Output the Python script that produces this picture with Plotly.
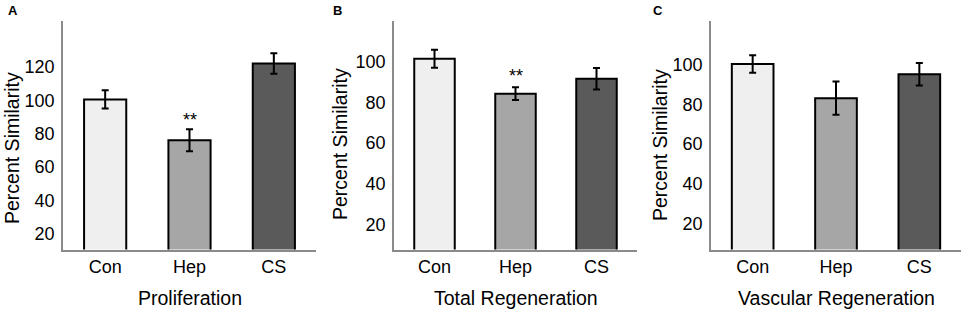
import plotly.graph_objects as go

W, H = 964, 312

categories = ["Con", "Hep", "CS"]

prolif_mean = [100.5, 76, 122]
prolif_err = [5.5, 6.6, 6.1]

total_mean = [101.6, 84.4, 91.8]
total_err = [4.4, 3.1, 5.3]

vasc_mean = [100.5, 83.2, 95.3]
vasc_err = [4.4, 8.4, 5.7]

bar_colors = ["#efefef", "#a6a6a6", "#5a5a5a"]

panel_titles = ["Proliferation", "Total Regeneration", "Vascular Regeneration"]
panel_letters = ["A", "B", "C"]
y_title = "Percent Similarity"

tick_A = [20, 40, 60, 80, 100, 120]
tick_BC = [20, 40, 60, 80, 100]

# layout (pixels)
x_dom_px = [(63, 316), (394, 637), (711, 961)]
y_top_px, y_bot_px = 21, 249.5
y_ranges = [[10.5, 147.5], [7.6, 120.2], [6.8, 122.2]]
ytitle_x_px = [12, 340, 660]
ytitle_y_px = [148, 144, 145]
letter_x_px = [13, 337, 658]
star_y = {0: 90.8, 1: 95.0}

FONT = "Liberation Sans, Arial, sans-serif"

fig = go.Figure()
series = [(prolif_mean, prolif_err), (total_mean, total_err), (vasc_mean, vasc_err)]

def px2x(p):
    return p / W

def px2y(p):
    return 1 - p / H

for i, (m, e) in enumerate(series):
    suffix = "" if i == 0 else str(i + 1)
    fig.add_trace(go.Bar(
        x=categories, y=m,
        xaxis="x" + suffix, yaxis="y" + suffix,
        width=0.5,
        marker=dict(color=bar_colors, line=dict(color="#000000", width=2)),
        error_y=dict(type="data", array=e, visible=True, color="#000000",
                     thickness=2, width=3.5),
        showlegend=False,
    ))
    xa = dict(
        domain=[px2x(x_dom_px[i][0]), px2x(x_dom_px[i][1])],
        anchor="y" + suffix,
        range=[-0.5, 2.5],
        showline=True, linecolor="#8a8a8a", linewidth=1.5,
        ticks="", showgrid=False, zeroline=False,
        tickfont=dict(family=FONT, size=18, color="#000000"),
        fixedrange=True,
    )
    ya = dict(
        domain=[px2y(y_bot_px), px2y(y_top_px)],
        anchor="x" + suffix,
        range=y_ranges[i],
        tickvals=tick_A if i == 0 else tick_BC,
        showline=True, linecolor="#8a8a8a", linewidth=1.5,
        ticks="", showgrid=False, zeroline=False,
        tickfont=dict(family=FONT, size=18, color="#000000"),
        ticklabelstandoff=3,
        fixedrange=True,
    )
    fig.update_layout(**{"xaxis" + suffix: xa, "yaxis" + suffix: ya})

    cx = (x_dom_px[i][0] + x_dom_px[i][1]) / 2
    fig.add_annotation(x=px2x(cx), y=px2y(298), xref="paper", yref="paper",
                       text=panel_titles[i], showarrow=False,
                       xanchor="center", yanchor="middle",
                       font=dict(family=FONT, size=19.5, color="#000000"))
    fig.add_annotation(x=px2x(ytitle_x_px[i]), y=px2y(ytitle_y_px[i]),
                       xref="paper", yref="paper", text=y_title, textangle=-90,
                       showarrow=False, xanchor="center", yanchor="middle",
                       font=dict(family=FONT, size=19.5, color="#000000"))
    fig.add_annotation(x=px2x(letter_x_px[i]), y=px2y(11), xref="paper", yref="paper",
                       text="<b>" + panel_letters[i] + "</b>", showarrow=False,
                       xanchor="center", yanchor="middle",
                       font=dict(family=FONT, size=13, color="#000000"))
    if i in star_y:
        fig.add_annotation(x="Hep", y=star_y[i], xref="x" + suffix, yref="y" + suffix,
                           text="**", showarrow=False, xanchor="center",
                           yanchor="middle", yshift=-4,
                           font=dict(family=FONT, size=18, color="#000000"))

fig.update_layout(
    width=W, height=H,
    margin=dict(l=0, r=0, t=0, b=0),
    paper_bgcolor="#ffffff", plot_bgcolor="#ffffff",
    bargap=0.5,
)

fig.write_html("out.html", config={"displayModeBar": False},
               post_script="document.body.style.margin='0';document.body.style.overflow='hidden';")
